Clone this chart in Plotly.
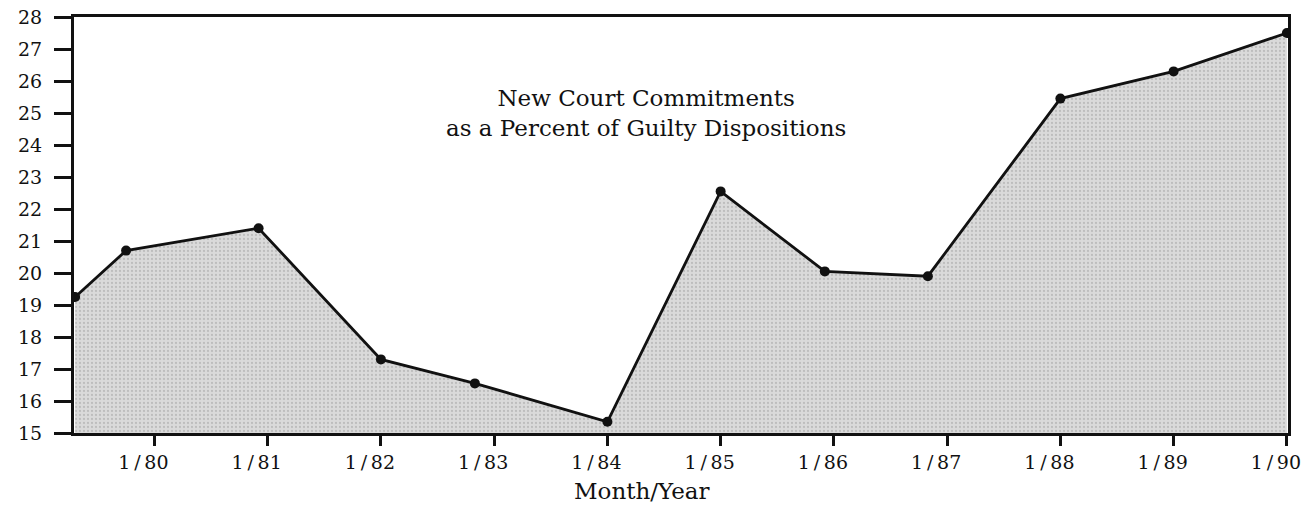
import plotly.graph_objects as go

# Data (x in fractional years, y in percent)
years = [1979.3, 1979.75, 1980.92, 1982.0, 1982.83, 1984.0,
         1985.0, 1985.92, 1986.83, 1988.0, 1989.0, 1990.0]
percent = [19.25, 20.7, 21.4, 17.3, 16.55, 15.35,
           22.55, 20.05, 19.9, 25.45, 26.3, 27.5]

tick_years = [1980, 1981, 1982, 1983, 1984, 1985, 1986, 1987, 1988, 1989, 1990]
tick_labels = ["1\u2009/\u200980", "1\u2009/\u200981", "1\u2009/\u200982", "1\u2009/\u200983",
               "1\u2009/\u200984", "1\u2009/\u200985", "1\u2009/\u200986", "1\u2009/\u200987",
               "1\u2009/\u200988", "1\u2009/\u200989", "1\u2009/\u200990"]
y_ticks = list(range(15, 29))

serif = "DejaVu Serif"

fig = go.Figure()

# shaded area under the line
fig.add_trace(
    go.Scatter(
        x=years,
        y=percent,
        mode="lines+markers",
        line=dict(color="#111111", width=2.8),
        marker=dict(color="#111111", size=10),
        fill="tozeroy",
        fillcolor="#d2d2d2",
        fillpattern=dict(shape=".", bgcolor="#dadada", fgcolor="#a0a0a0",
                         size=4, solidity=0.25),
        hoverinfo="skip",
    )
)

fig.update_layout(
    width=1307,
    height=506,
    margin=dict(l=74, r=19, t=17, b=73),
    paper_bgcolor="white",
    plot_bgcolor="white",
    showlegend=False,
    font=dict(family=serif, color="#111111"),
    xaxis=dict(
        range=[1979.29, 1990.01],
        tickvals=tick_years,
        ticktext=tick_labels,
        ticks="outside",
        ticklen=10,
        tickwidth=3,
        tickcolor="#111111",
        showline=True,
        linecolor="#111111",
        linewidth=3,
        mirror=True,
        showgrid=False,
        zeroline=False,
        automargin=False,
        ticklabeloverflow="allow",
        ticklabelshift=-11,
        tickfont=dict(family=serif, size=19, color="#111111"),
    ),
    yaxis=dict(
        range=[15, 28],
        tickvals=y_ticks,
        ticks="outside",
        ticklen=17,
        tickwidth=3,
        tickcolor="#111111",
        showline=True,
        linecolor="#111111",
        linewidth=3,
        mirror=True,
        showgrid=False,
        zeroline=False,
        automargin=False,
        ticklabeloverflow="allow",
        ticklabelstandoff=8,
        tickfont=dict(family=serif, size=19, color="#111111"),
    ),
    annotations=[
        dict(
            text="New Court Commitments<br>as a Percent of Guilty Dispositions",
            x=0.471, y=0.77, xref="paper", yref="paper",
            xanchor="center", yanchor="middle",
            showarrow=False, align="center",
            font=dict(family=serif, size=23, color="#111111"),
        ),
        dict(
            text="Month/Year",
            x=0.468, y=-0.139, xref="paper", yref="paper",
            xanchor="center", yanchor="middle",
            showarrow=False,
            font=dict(family=serif, size=23, color="#111111"),
        ),
    ],
)

# drop the default page margin so the figure fills the window exactly
fig.write_html(
    "out.html",
    config={"displayModeBar": False},
    post_script="document.body.style.margin = '0';",
)
